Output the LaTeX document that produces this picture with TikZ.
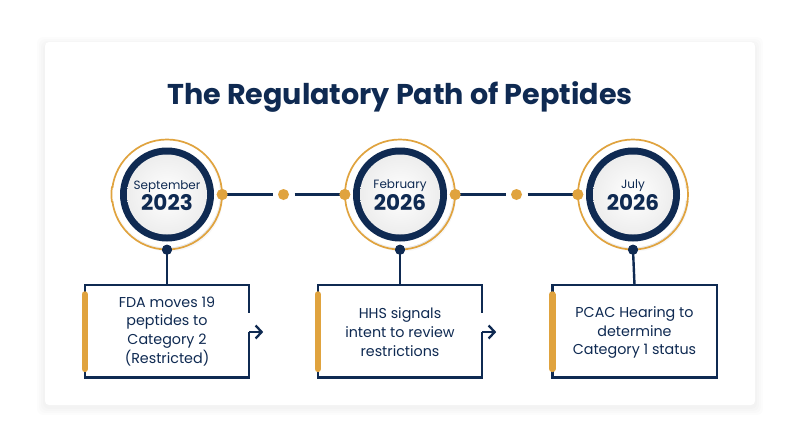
\documentclass[tikz,border=0pt]{standalone}
\usepackage{fontspec}
\setmainfont{Poppins}
\usetikzlibrary{arrows.meta,calc}
\definecolor{navy}{HTML}{0F2A52}
\definecolor{gold}{HTML}{E0A33E}
\begin{document}
\begin{tikzpicture}[x=1pt,y=-1pt,
  conn/.style={draw=navy,line width=2.4pt},
  dotgold/.style={circle,fill=gold,minimum size=11pt,inner sep=0pt},
  dotnavy/.style={circle,fill=navy,minimum size=10pt,inner sep=0pt},
  ring/.style={circle,minimum size=110pt,inner sep=0pt},
  boxnode/.style={rectangle,minimum width=164pt,minimum height=92pt,inner sep=0pt,anchor=north},
  boxtext/.style={text=navy,align=center,font=\fontsize{14.3}{18.6}\selectfont},
  monthtext/.style={text=navy,anchor=base,font=\fontsize{12}{13}\selectfont},
  yeartext/.style={text=navy,anchor=base,font=\bfseries\fontsize{21.5}{22}\selectfont},
  tip/.style={-{Straight Barb[length=6pt,width=13pt,line width=2.3pt]}}
]
\useasboundingbox (0,0) rectangle (800,447);
\fill[white] (0,0) rectangle (800,447);
% card with soft shadow
\foreach \s in {8,6,4,2}{
  \fill[black,opacity=0.013,rounded corners=6pt] (45-\s,42-\s+3) rectangle (755+\s,405+\s+2);
}
\fill[white,rounded corners=4pt] (45,42) rectangle (755,405);
% title
\node[text=navy,font=\bfseries\fontsize{28.6}{31}\selectfont,anchor=base] (title) at (400,104) {The Regulatory Path of Peptides};

% circles
\foreach \n/\x in {1/167,2/400,3/633}{
  \node[ring] (c\n) at (\x,194.5) {};
  \foreach \r/\o in {54/0.03,52/0.04,50/0.05}{
    \fill[black,opacity=\o] (\x+2,197.5) circle (\r);
  }
  \fill[white] (c\n) circle (53);
  \draw[gold,line width=1.7pt] (c\n) circle (55);
  \fill[navy] (c\n) circle (47);
  \shade[inner color=white,outer color=black!7] (c\n) circle (40);
  \node[dotgold] (e\n) at (c\n.east) {};
  \node[dotgold] (w\n) at (c\n.west) {};
  \node[dotnavy] (s\n) at (c\n.south) {};
}
% the first circle has no west dot, the last no east dot
\fill[white] (w1) circle (6.5);
\draw[gold,line width=1.7pt] ($(c1)+(-55,-8)$) arc (188.3:171.7:55);
\fill[white] (e3) circle (6.5);
\draw[gold,line width=1.7pt] ($(c3)+(54.4,-8)$) arc (-8.3:8.3:55);

\node[monthtext] (mt1) at (167,189) {September};
\node[yeartext] (yt1) at (167,210.5) {2023};
\node[monthtext] (mt2) at (400,188.5) {February};
\node[yeartext] (yt2) at (400,210.5) {2026};
\node[monthtext] (mt3) at (633,188) {July};
\node[yeartext] (yt3) at (633,210.5) {2026};

% middle dots and timeline
\node[dotgold,outer sep=5.5pt] (m1) at (283.5,194.5) {};
\node[dotgold,outer sep=5.5pt] (m2) at (516.5,194.5) {};
\draw[conn] (e1.center) -- (m1.west);
\draw[conn] (m1.east) -- (w2.center);
\draw[conn] (e2.center) -- (m2.west);
\draw[conn] (m2.east) -- (w3.center);
\node[dotgold] at (e1) {};
\node[dotgold] at (w2) {};
\node[dotgold] at (e2) {};
\node[dotgold] at (w3) {};

% boxes
\node[boxnode] (b1) at (167,285) {};
\node[boxnode] (b2) at (400,285) {};
\node[boxnode] (b3) at (634.5,285) {};

\foreach \n in {1,2,3}{
  \draw[conn] (s\n.center) -- (b\n.north);
  \node[dotnavy] at (s\n) {};
}
% boxes 1 and 2: gap in the right side and an arrow
\foreach \n in {1,2}{
  \coordinate (k\n) at ($(b\n.north east)+(0,47)$);
  \coordinate (a\n) at ($(k\n)+(14,0)$);
  \draw[conn,line cap=butt] (k\n) -- (b\n.south east) -- (b\n.south west) -- (b\n.north west) -- (b\n.north east) -- ($(b\n.north east)+(0,28)$);
  \draw[conn,tip] (k\n) -- (a\n);
}
\draw[conn] (b3.south east) -- (b3.south west) -- (b3.north west) -- (b3.north east) -- cycle;
\foreach \n in {1,2,3}{
  \draw[gold,line width=6.5pt,line cap=round] ($(b\n.north west)+(0,9.5)$) -- ($(b\n.south west)+(0,-8.5)$);
}
\node[boxtext] (t1) at ($(b1.center)+(0,0)$) {FDA moves 19\\peptides to\\Category 2\\(Restricted)};
\node[boxtext] (t2) at ($(b2.center)+(0,1)$) {HHS signals\\intent to review\\restrictions};
\node[boxtext] (t3) at ($(b3.center)+(0,1.5)$) {PCAC Hearing to\\determine\\Category 1 status};
\end{tikzpicture}
\end{document}
